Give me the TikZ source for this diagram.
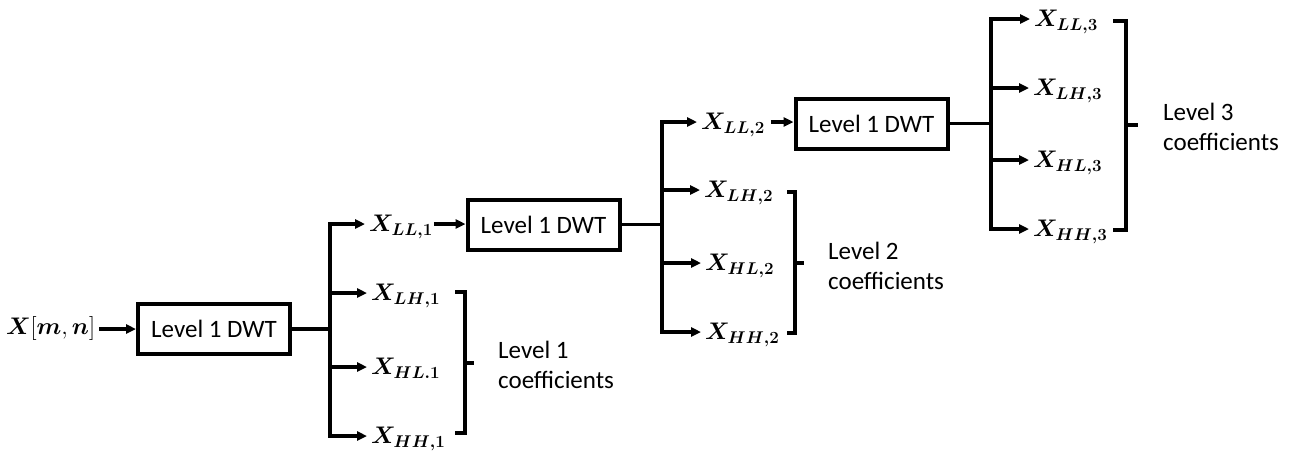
\documentclass[tikz,border=0pt]{standalone}
\usepackage{fix-cm}
\usepackage{bm}
\usepackage{fontspec}
\newfontfamily\labelfont{Carlito}
\usetikzlibrary{arrows.meta}
% coefficient symbol with a large bold subscript
\newcommand\coefsym[1]{$\bm{X}_{\mbox{\fontsize{17}{19}\selectfont$\bm{#1}$}}$}

\tikzset{
  dwtbox/.style={draw, line width=4pt, minimum width=152pt, minimum height=50pt,
    inner sep=0pt, font=\labelfont\fontsize{25}{30}\selectfont},
  coef/.style={anchor=west, inner sep=0pt, outer sep=4pt, text height=16.5pt, text depth=1pt,
    font=\fontsize{24}{29}\selectfont},
  wire/.style={line width=3.2pt},
  flow/.style={line width=3.2pt, -{Triangle[length=10pt,width=9pt]}},
  brace/.style={line width=3.2pt},
  levellabel/.style={anchor=west, align=left, inner sep=0pt,
    font=\labelfont\fontsize{25}{30}\selectfont},
}

\begin{document}
\begin{tikzpicture}[x=1pt, y=-1pt]
\useasboundingbox (0,0) rectangle (1303,453);

% input
\node[anchor=east, inner sep=0pt, outer sep=4pt, text height=16.5pt, text depth=5pt,
      font=\fontsize{24}{29}\selectfont] (xin) at (99,329) {$\bm{X}[\bm{m},\bm{n}]$};

% transform stages
\node[dwtbox] (b1) at (214,329) {Level 1 DWT};
\node[dwtbox] (b2) at (543.5,224.5) {Level 1 DWT};
\node[dwtbox] (b3) at (871.5,123.5) {Level 1 DWT};

% junction points on the buses
\coordinate (j1) at (330,329);
\coordinate (j2) at (662,224.5);
\coordinate (j3) at (991,123.5);

% stage 1 outputs
\node[coef] (ll1) at (365,224) {\coefsym{LL{,}1}};
\node[coef] (lh1) at (367,293) {\coefsym{LH{,}1}};
\node[coef] (hl1) at (367,367) {\coefsym{HL.1}};
\node[coef] (hh1) at (367,436) {\coefsym{HH{,}1}};

% stage 2 outputs
\node[coef] (ll2) at (697,122) {\coefsym{LL{,}2}};
\node[coef] (lh2) at (700,190) {\coefsym{LH{,}2}};
\node[coef] (hl2) at (701,263) {\coefsym{HL{,}2}};
\node[coef] (hh2) at (701,332) {\coefsym{HH{,}2}};

% stage 3 outputs
\node[coef] (ll3) at (1030,19)  {\coefsym{LL{,}3}};
\node[coef] (lh3) at (1029,88)  {\coefsym{LH{,}3}};
\node[coef] (hl3) at (1029,160) {\coefsym{HL{,}3}};
\node[coef] (hh3) at (1029,229) {\coefsym{HH{,}3}};

% signal flow
\draw[flow] (xin.east) -- (xin.east -| b1.west);
\draw[wire] (b1.east) -- (j1);
\draw[flow] (j1) |- (ll1.west);
\draw[flow] (j1) |- (lh1.west);
\draw[flow] (j1) |- (hl1.west);
\draw[flow] (j1) |- (hh1.west);
\draw[flow] ([xshift=-3pt]ll1.east) -- (ll1.east -| b2.west);

\draw[wire] (b2.east) -- (j2);
\draw[flow] (j2) |- (ll2.west);
\draw[flow] (j2) |- (lh2.west);
\draw[flow] (j2) |- (hl2.west);
\draw[flow] (j2) |- (hh2.west);
\draw[flow] ([xshift=2pt]ll2.east) -- (ll2.east -| b3.west);

\draw[wire] (b3.east) -- (j3);
\draw[flow] (j3) |- (ll3.west);
\draw[flow] (j3) |- (lh3.west);
\draw[flow] (j3) |- (hl3.west);
\draw[flow] (j3) |- (hh3.west);

% coefficient groupings
\draw[brace] (455,292) -- (465,292) -- (465,433) -- (455,433);
\draw[brace] (465,363) -- (474,363);
\node[levellabel] (lev1) at (498,365) {Level 1\\coefficients};

\draw[brace] (787,192) -- (795,192) -- (795,333) -- (787,333);
\draw[brace] (795,263) -- (804,263);
\node[levellabel] (lev2) at (828,266) {Level 2\\coefficients};

\draw[brace] (1113,21) -- (1126,21) -- (1126,230) -- (1113,230);
\draw[brace] (1126,125) -- (1138,125);
\node[levellabel] (lev3) at (1163,127) {Level 3\\coefficients};
\end{tikzpicture}
\end{document}
